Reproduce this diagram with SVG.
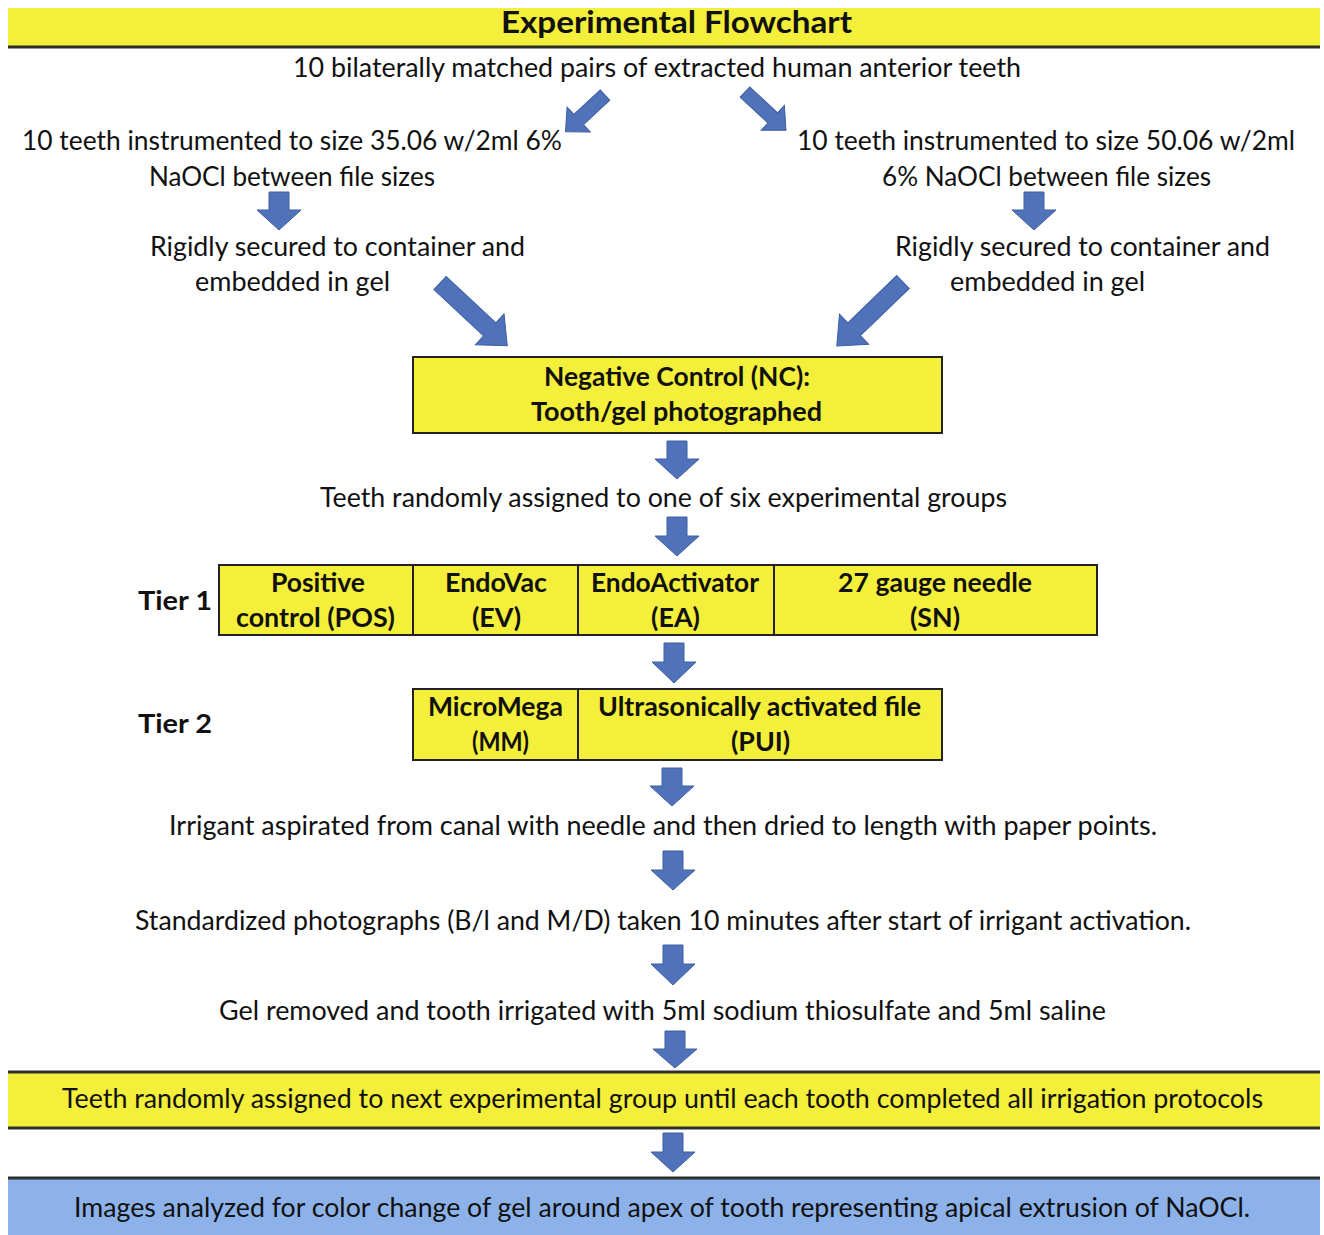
<svg xmlns="http://www.w3.org/2000/svg" width="1324" height="1235" viewBox="0 0 1324 1235">
<style>
  text { font-family: Lato, "Liberation Sans", sans-serif; fill: #111; }
  .t { font-size: 26px; }
  .b { font-size: 26px; font-weight: bold; }
  .title { font-size: 31px; font-weight: bold; }
  .box { fill: #F4EF3B; stroke: #222; stroke-width: 2; }
  .arr { fill: #4F72BA; stroke: #3E5E9E; stroke-width: 1; }
  .band { fill: #F4EF3B; }
  .blue { fill: #8DB2EA; }
  .rule { stroke: #2f2f2a; stroke-width: 3; }
</style>
<rect width="1324" height="1235" fill="#fff"/>

<g id="title">
  <rect class="band" x="8" y="8" width="1312" height="38"/>
  <line class="rule" x1="8" y1="47" x2="1320" y2="47"/>
  <text class="title" x="501" y="33" textLength="351" lengthAdjust="spacingAndGlyphs">Experimental Flowchart</text>
</g>

<g id="start">
  <text class="t" x="293" y="77" textLength="728" lengthAdjust="spacingAndGlyphs">10 bilaterally matched pairs of extracted human anterior teeth</text>
</g>

<g id="left-instrument">
  <text class="t" x="22" y="150" textLength="540" lengthAdjust="spacingAndGlyphs">10 teeth instrumented to size 35.06 w/2ml 6%</text>
  <text class="t" x="149" y="186" textLength="286" lengthAdjust="spacingAndGlyphs">NaOCl between file sizes</text>
</g>

<g id="right-instrument">
  <text class="t" x="797" y="150" textLength="498" lengthAdjust="spacingAndGlyphs">10 teeth instrumented to size 50.06 w/2ml</text>
  <text class="t" x="882" y="186" textLength="329" lengthAdjust="spacingAndGlyphs">6% NaOCl between file sizes</text>
</g>

<g id="left-secured">
  <text class="t" x="150" y="256" textLength="375" lengthAdjust="spacingAndGlyphs">Rigidly secured to container and</text>
  <text class="t" x="195" y="291" textLength="195" lengthAdjust="spacingAndGlyphs">embedded in gel</text>
</g>

<g id="right-secured">
  <text class="t" x="895" y="256" textLength="375" lengthAdjust="spacingAndGlyphs">Rigidly secured to container and</text>
  <text class="t" x="950" y="291" textLength="195" lengthAdjust="spacingAndGlyphs">embedded in gel</text>
</g>

<g id="negative-control">
  <rect class="box" x="413" y="357" width="529" height="76"/>
  <text class="b" x="544" y="386" textLength="266" lengthAdjust="spacingAndGlyphs">Negative Control (NC):</text>
  <text class="b" x="531" y="421" textLength="291" lengthAdjust="spacingAndGlyphs">Tooth/gel photographed</text>
</g>

<g id="random-assign">
  <text class="t" x="320" y="507" textLength="687" lengthAdjust="spacingAndGlyphs">Teeth randomly assigned to one of six experimental groups</text>
</g>

<g id="tier1">
  <text class="b" x="138" y="610" textLength="74" lengthAdjust="spacingAndGlyphs">Tier 1</text>
  <rect class="box" x="219" y="565" width="878" height="70"/>
  <line stroke="#222" stroke-width="2" x1="413" y1="565" x2="413" y2="635"/>
  <line stroke="#222" stroke-width="2" x1="578" y1="565" x2="578" y2="635"/>
  <line stroke="#222" stroke-width="2" x1="774" y1="565" x2="774" y2="635"/>
  <text class="b" x="271" y="592" textLength="94" lengthAdjust="spacingAndGlyphs">Positive</text>
  <text class="b" x="236" y="627" textLength="159" lengthAdjust="spacingAndGlyphs">control (POS)</text>
  <text class="b" x="445" y="592" textLength="102" lengthAdjust="spacingAndGlyphs">EndoVac</text>
  <text class="b" x="472" y="627" textLength="49" lengthAdjust="spacingAndGlyphs">(EV)</text>
  <text class="b" x="591" y="592" textLength="168" lengthAdjust="spacingAndGlyphs">EndoActivator</text>
  <text class="b" x="651" y="627" textLength="49" lengthAdjust="spacingAndGlyphs">(EA)</text>
  <text class="b" x="838" y="592" textLength="194" lengthAdjust="spacingAndGlyphs">27 gauge needle</text>
  <text class="b" x="910" y="627" textLength="50" lengthAdjust="spacingAndGlyphs">(SN)</text>
</g>

<g id="tier2">
  <text class="b" x="138" y="733" textLength="74" lengthAdjust="spacingAndGlyphs">Tier 2</text>
  <rect class="box" x="413" y="689" width="529" height="71"/>
  <line stroke="#222" stroke-width="2" x1="578" y1="689" x2="578" y2="760"/>
  <text class="b" x="428" y="716" textLength="135" lengthAdjust="spacingAndGlyphs">MicroMega</text>
  <text class="b" x="472" y="751" textLength="57" lengthAdjust="spacingAndGlyphs">(MM)</text>
  <text class="b" x="598" y="716" textLength="323" lengthAdjust="spacingAndGlyphs">Ultrasonically activated file</text>
  <text class="b" x="731" y="751" textLength="59" lengthAdjust="spacingAndGlyphs">(PUI)</text>
</g>

<g id="aspirate">
  <text class="t" x="169" y="835" textLength="988" lengthAdjust="spacingAndGlyphs">Irrigant aspirated from canal with needle and then dried to length with paper points.</text>
</g>

<g id="photographs">
  <text class="t" x="135" y="930" textLength="1056" lengthAdjust="spacingAndGlyphs">Standardized photographs (B/l and M/D) taken 10 minutes after start of irrigant activation.</text>
</g>

<g id="gel-removed">
  <text class="t" x="219" y="1020" textLength="887" lengthAdjust="spacingAndGlyphs">Gel removed and tooth irrigated with 5ml sodium thiosulfate and 5ml saline</text>
</g>

<g id="next-group">
  <rect class="band" x="8" y="1072" width="1312" height="56"/>
  <line class="rule" x1="8" y1="1072" x2="1320" y2="1072"/>
  <line class="rule" x1="8" y1="1128" x2="1320" y2="1128"/>
  <text class="t" x="62" y="1108" textLength="1201" lengthAdjust="spacingAndGlyphs">Teeth randomly assigned to next experimental group until each tooth completed all irrigation protocols</text>
</g>

<g id="analysis">
  <rect class="blue" x="8" y="1178" width="1312" height="57"/>
  <line class="rule" x1="8" y1="1178" x2="1320" y2="1178"/>
  <text class="t" x="74" y="1217" textLength="1176" lengthAdjust="spacingAndGlyphs">Images analyzed for color change of gel around apex of tooth representing apical extrusion of NaOCl.</text>
</g>

<g id="connectors">
  <!-- diagonal top arrows -->
  <path class="arr" transform="translate(605,95) rotate(47)" d="M -7 0 H 7 V 36 H 17 L 0 54 L -17 36 H -7 Z"/>
  <path class="arr" transform="translate(745,92) rotate(-47)" d="M -7 0 H 7 V 38 H 17 L 0 56 L -17 38 H -7 Z"/>
  <!-- down arrows to secured -->
  <path class="arr" transform="translate(279,192)" d="M -10 0 H 10 V 18 H 22 L 0 38 L -22 18 H -10 Z"/>
  <path class="arr" transform="translate(1034,192)" d="M -10 0 H 10 V 18 H 22 L 0 38 L -22 18 H -10 Z"/>
  <!-- diagonal arrows to NC -->
  <path class="arr" transform="translate(440,283) rotate(-47)" d="M -9 0 H 9 V 68 H 21 L 0 92 L -21 68 H -9 Z"/>
  <path class="arr" transform="translate(903,282) rotate(46)" d="M -9 0 H 9 V 68 H 21 L 0 92 L -21 68 H -9 Z"/>
  <!-- vertical chain -->
  <path class="arr" transform="translate(677,441)" d="M -10 0 H 10 V 18 H 22 L 0 38 L -22 18 H -10 Z"/>
  <path class="arr" transform="translate(677,517)" d="M -10 0 H 10 V 19 H 22 L 0 39 L -22 19 H -10 Z"/>
  <path class="arr" transform="translate(674,643)" d="M -10 0 H 10 V 19 H 22 L 0 40 L -22 19 H -10 Z"/>
  <path class="arr" transform="translate(672,768)" d="M -10 0 H 10 V 18 H 22 L 0 38 L -22 18 H -10 Z"/>
  <path class="arr" transform="translate(673,851)" d="M -10 0 H 10 V 19 H 22 L 0 39 L -22 19 H -10 Z"/>
  <path class="arr" transform="translate(673,945)" d="M -10 0 H 10 V 19 H 22 L 0 40 L -22 19 H -10 Z"/>
  <path class="arr" transform="translate(675,1031)" d="M -10 0 H 10 V 18 H 22 L 0 37 L -22 18 H -10 Z"/>
  <path class="arr" transform="translate(673,1133)" d="M -10 0 H 10 V 19 H 22 L 0 39 L -22 19 H -10 Z"/>
</g>
</svg>
